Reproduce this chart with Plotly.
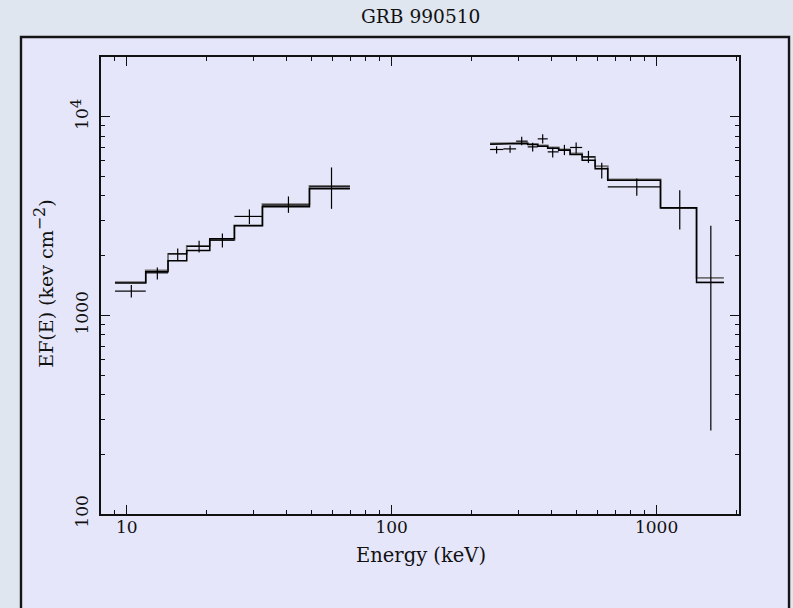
import plotly.graph_objects as go

# GRB 990510 broadband spectrum: E*F(E) data with two folded model curves.

# Low-energy channel group (keV bin edges) and measurements
low_edges = [9.03, 11.80, 14.32, 16.85, 20.59, 25.50, 32.53, 48.96, 69.6]
low_center = [10.41, 13.05, 15.58, 18.76, 22.97, 29.05, 40.78, 59.3]
low_flux = [1325, 1638, 2042, 2225, 2393, 3150, 3591, 4438]
low_err_plus = [96, 106, 132, 149, 193, 266, 380, 1119]
low_err_minus = [93, 120, 144, 150, 194, 270, 307, 998]
low_model_a = [1454, 1657, 1883, 2124, 2429, 2825, 3521, 4337]
low_model_b = [1471, 1684, 2042, 2240, 2393, 2840, 3632, 4490]

# High-energy channel group
high_edges = [235.2, 264.1, 294.9, 326.2, 355.9, 388.2, 427.1, 471.6,
              523.6, 586.1, 654.2, 1034.6, 1415, 1794]
high_center = [249, 279.9, 309.6, 340.6, 371.6, 405.4, 448.8, 497,
               553, 620.9, 841.8, 1223, 1602]
high_flux = [6845, 6893, 7538, 7054, 7742, 6658, 6789, 7005,
             6282, 5492, 4438, 3479, 1466]
high_err_plus = [267, 277, 385, 336, 433, 347, 433, 419, 454, 369, 455, 792, 1359]
high_err_minus = [310, 311, 344, 365, 404, 418, 380, 470, 421, 599, 439, 770, 1203]
high_model_a = [7280, 7338, 7338, 7254, 7112, 6950, 6789, 6460,
                6047, 5467, 4797, 3479, 1466]
high_model_b = [7338, 7338, 7390, 7280, 7170, 7005, 6845, 6535,
                6282, 5641, 4836, 3479, 1546]

x_tickvals = [10, 100, 1000]
x_ticktext = ["10", "100", "1000"]
y_tickvals = [100, 1000, 10000]
y_ticktext = ["100", "1000", "10<sup><span style='font-size:15px'>4</span></sup>"]

title_text = "GRB 990510"
x_title = "Energy (keV)"
y_title = "EF(E) (kev cm<sup><span style='font-size:16px'>\u22122</span></sup>)"


def step_path(groups):
    xs, ys = [], []
    for edges, vals in groups:
        for i, v in enumerate(vals):
            xs += [edges[i], edges[i + 1]]
            ys += [v, v]
        xs.append(None)
        ys.append(None)
    return xs, ys


def data_trace(edges, center, flux, ep, em):
    return go.Scatter(
        x=center, y=flux, mode="markers",
        marker=dict(size=0.1, color="black"),
        error_x=dict(type="data", symmetric=False,
                     array=[edges[i + 1] - c for i, c in enumerate(center)],
                     arrayminus=[c - edges[i] for i, c in enumerate(center)],
                     width=0, thickness=1.2, color="black"),
        error_y=dict(type="data", symmetric=False, array=ep, arrayminus=em,
                     width=0, thickness=1.2, color="black"),
        showlegend=False, hoverinfo="skip",
    )


fig = go.Figure()

bx, by = step_path([(low_edges, low_model_b), (high_edges, high_model_b)])
fig.add_trace(go.Scatter(x=bx, y=by, mode="lines",
                         line=dict(color="#707070", width=1.8),
                         showlegend=False, hoverinfo="skip"))
ax, ay = step_path([(low_edges, low_model_a), (high_edges, high_model_a)])
fig.add_trace(go.Scatter(x=ax, y=ay, mode="lines",
                         line=dict(color="black", width=1.5),
                         showlegend=False, hoverinfo="skip"))

fig.add_trace(data_trace(low_edges, low_center, low_flux, low_err_plus, low_err_minus))
fig.add_trace(data_trace(high_edges, high_center, high_flux, high_err_plus, high_err_minus))

serif = "DejaVu Serif"
axis_common = dict(
    type="log", showline=True, linecolor="#111111", linewidth=1.5,
    mirror="allticks", ticks="inside", ticklen=9, tickwidth=1.2,
    tickcolor="#111111", showgrid=False, zeroline=False,
    tickmode="array",
    tickfont=dict(family=serif, size=17, color="#111111"),
    minor=dict(ticks="inside", ticklen=4, tickwidth=1.1, tickcolor="#111111",
               dtick="D1", showgrid=False),
)

fig.update_layout(
    width=793, height=608,
    margin=dict(l=101, r=54, t=57, b=94),
    paper_bgcolor="#dfe6f0",
    plot_bgcolor="#e6e6fa",
    xaxis=dict(axis_common, range=[0.903, 3.311],
               tickvals=x_tickvals, ticktext=x_ticktext, ticklabelstandoff=-3),
    yaxis=dict(axis_common, range=[2, 4.301], tickangle=-90,
               tickvals=y_tickvals, ticktext=y_ticktext, ticklabelstandoff=4),
    shapes=[dict(type="rect", xref="paper", yref="paper",
                 x0=-0.1254, x1=1.0784, y0=-0.30, y1=1.0438,
                 fillcolor="#e6e6fa", line=dict(color="#151515", width=2.4),
                 layer="below")],
    annotations=[
        dict(text=title_text, xref="paper", yref="paper", x=0.5008, y=1.0897,
             xanchor="center", yanchor="middle", showarrow=False,
             font=dict(family=serif, size=18.6, color="#111111")),
        dict(text=x_title, xref="paper", yref="paper", x=0.5015, y=-0.091,
             xanchor="center", yanchor="middle", showarrow=False,
             font=dict(family=serif, size=19.5, color="#111111")),
        dict(text=y_title, xref="paper", yref="paper", x=-0.090, y=0.503,
             xanchor="center", yanchor="middle", showarrow=False, textangle=-90,
             font=dict(family=serif, size=19, color="#111111")),
    ],
)

fig.write_html("out.html")
